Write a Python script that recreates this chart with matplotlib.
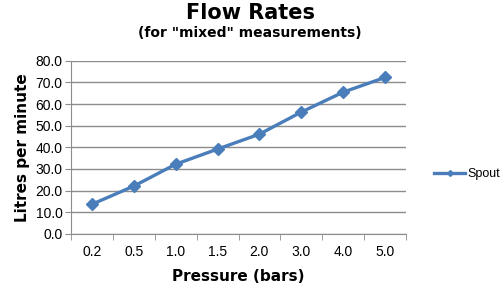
import numpy as np
import matplotlib
matplotlib.use("Agg")
import matplotlib.pyplot as plt

pressure = ["0.2", "0.5", "1.0", "1.5", "2.0", "3.0", "4.0", "5.0"]
spout = [13.7, 22.1, 32.2, 39.2, 46.1, 56.3, 65.5, 72.3]

blue = "#4a7ebb"
grey = "#8c8c8c"

fig = plt.figure(figsize=(5, 2.95), dpi=100)
fig.set_facecolor('w')
ax = fig.add_axes([0.142, 0.207, 0.670, 0.587])

x = np.arange(len(pressure))
ax.plot(x, spout, color=blue, lw=2.4, marker='D', ms=6.5, label="Spout")

ax.set_xlim(-0.5, len(pressure) - 0.5)
ax.set_ylim(0, 80)
ax.set_yticks(np.arange(0, 81, 10))
ax.set_yticklabels([f"{v:.1f}" for v in np.arange(0, 81, 10)], fontsize=10, family="Liberation Sans")
ax.set_xticks(x)
ax.set_xticklabels(pressure, fontsize=10, family="Liberation Sans")
ax.set_xticks(np.arange(-0.5, len(pressure)), minor=True)
ax.tick_params(axis='x', which='major', length=0, pad=8)
ax.tick_params(axis='x', which='minor', length=4, color=grey)
ax.tick_params(axis='y', length=4, color=grey, pad=2)

ax.grid(axis='y', color=grey, lw=1)
ax.set_axisbelow(True)
for s in ['top', 'right']:
    ax.spines[s].set_visible(False)
for s in ['left', 'bottom']:
    ax.spines[s].set_color(grey)

ax.set_xlabel("Pressure (bars)", fontsize=11, fontweight='bold', labelpad=7)
ax.set_ylabel("Litres per minute", fontsize=11, fontweight='bold', labelpad=4)

fig.text(0.5, 0.955, "Flow Rates", ha='center', va='center', fontsize=15, fontweight='bold')
fig.text(0.5, 0.888, "(for \"mixed\" measurements)", ha='center', va='center', fontsize=10, fontweight='bold')

leg = ax.legend(loc='center left', bbox_to_anchor=(1.05, 0.346), frameon=False,
                handlelength=2.5, handletextpad=0.2,
                prop={'family': 'Liberation Sans', 'size': 9})
leg.get_lines()[0].set_markersize(3)

fig.savefig("out.png", dpi=100)
